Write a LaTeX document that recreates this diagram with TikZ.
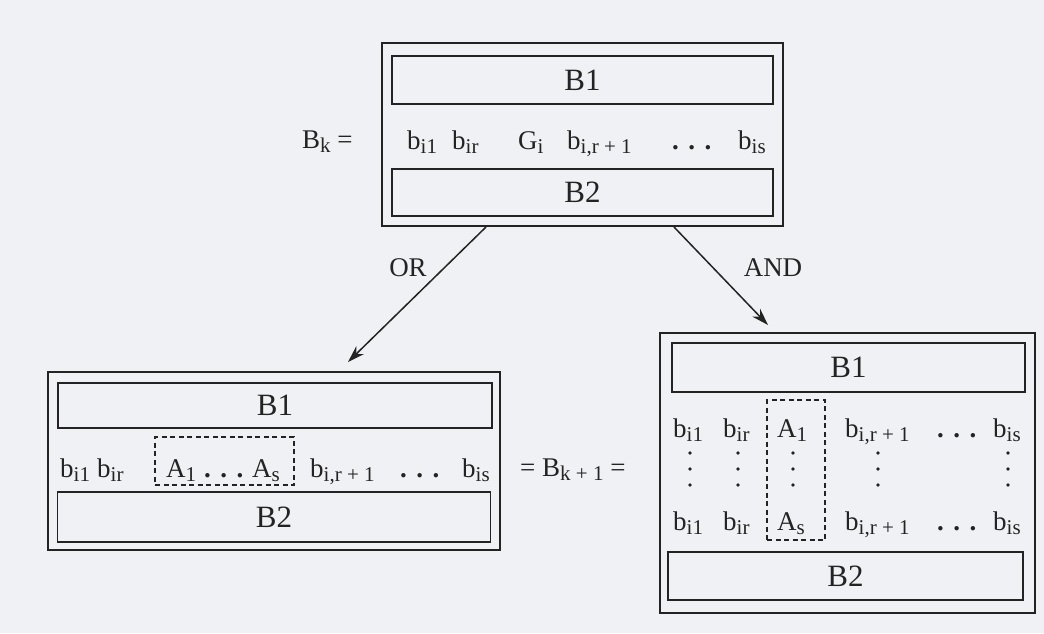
\documentclass[tikz,border=0pt]{standalone}
\usepackage{fontspec}
\setmainfont{Liberation Serif}
\usetikzlibrary{arrows.meta}
\definecolor{paper}{RGB}{239,241,244}
\definecolor{ink}{RGB}{35,35,35}
% lowered index as printed in the figure
\newcommand{\lowr}[1]{\raisebox{-4.5pt}{\fontsize{21}{23}\selectfont #1}}
\newcommand{\spreaddots}{\textbf{.}\hspace{0.35em}\textbf{.}\hspace{0.35em}\textbf{.}}
\begin{document}
\begin{tikzpicture}
  [x=1pt,y=-1pt,
   every node/.style={text=ink,font=\fontsize{27}{31}\selectfont},
   txt/.style={anchor=base west,inner sep=0},
   frame/.style={draw=ink,line width=2pt,inner sep=0},
   bar/.style={draw=ink,line width=1.8pt,inner sep=0,font=\fontsize{31}{35}\selectfont},
   group/.style={draw=ink,line width=1.6pt,dash pattern=on 5pt off 3.5pt,inner sep=0},
   arr/.style={draw=ink,line width=1.5pt,-{Stealth[length=17pt,width=11pt]}}]
\useasboundingbox (0,0) rectangle (1044,633);
\fill[paper] (0,0) rectangle (1044,633);

% B_k
  \node[frame,minimum width=401pt,minimum height=183pt] (bk) at (582.5,134.5) {};
  \node[bar,minimum width=381pt,minimum height=48pt] (bkone) at (582.5,80) {B1};
  \node[bar,minimum width=381pt,minimum height=47pt] (bktwo) at (582.5,192.5) {B2};
  \node[txt] (bkname) at (302,148) {B\lowr{k} =};
  \foreach \x/\t [count=\i] in {407/{b\lowr{i1}}, 452/{b\lowr{ir}}, 518/{G\lowr{i}},
      567/{b\lowr{i,r + 1}}, 672/{\spreaddots}, 738/{b\lowr{is}}}
    \node[txt] (bk\i) at (\x,149) {\t};

% OR branch
  \node[frame,minimum width=452pt,minimum height=178pt] (orb) at (274,461) {};
  \node[bar,minimum width=434pt,minimum height=45pt] (orone) at (275,405.5) {B1};
  \node[bar,minimum width=433pt,minimum height=50pt] (ortwo) at (274,517) {B2};
  \node[group,minimum width=139pt,minimum height=48pt] (orgrp) at (224.5,461) {};
  \foreach \x/\t [count=\i] in {60/{b\lowr{i1}}, 97/{b\lowr{ir}}, 166/{A\lowr{1}},
      204/{\spreaddots}, 252/{A\lowr{s}}, 310/{b\lowr{i,r + 1}},
      400/{\spreaddots}, 462/{b\lowr{is}}}
    \node[txt] (or\i) at (\x,477) {\t};
  \node[txt] (bknext) at (520,476) {= B\lowr{k + 1} =};

% AND branch
  \node[frame,minimum width=375pt,minimum height=280pt] (andb) at (847.5,473) {};
  \node[bar,minimum width=353pt,minimum height=49pt] (andone) at (848.5,367.5) {B1};
  \node[bar,minimum width=355pt,minimum height=48pt] (andtwo) at (845.5,576) {B2};
  \node[group,minimum width=58pt,minimum height=140pt] (andgrp) at (796,470) {};
  \foreach \y/\s in {437/1, 530/s}{
    \foreach \x/\t [count=\i] in {673/{b\lowr{i1}}, 723/{b\lowr{ir}}, 777/{A\lowr{\s}},
        845/{b\lowr{i,r + 1}}, 937/{\spreaddots}, 993/{b\lowr{is}}}
      \node[txt] (and\s\i) at (\x,\y) {\t};
  }
  \foreach \x in {690,738,793,878,1008}
    \foreach \y in {453,469,485}
      \fill[ink] (\x,\y) circle (1.8);

% arrows
  \coordinate (orend) at (348,362);
  \coordinate (andend) at (768,325);
  \draw[arr] ([xshift=105pt]bk.south west) -- (orend);
  \draw[arr] ([xshift=293pt]bk.south west) -- (andend);
  \node (orlbl) at (408,268) {OR};
  \node (andlbl) at (773,268) {AND};
\end{tikzpicture}
\end{document}
